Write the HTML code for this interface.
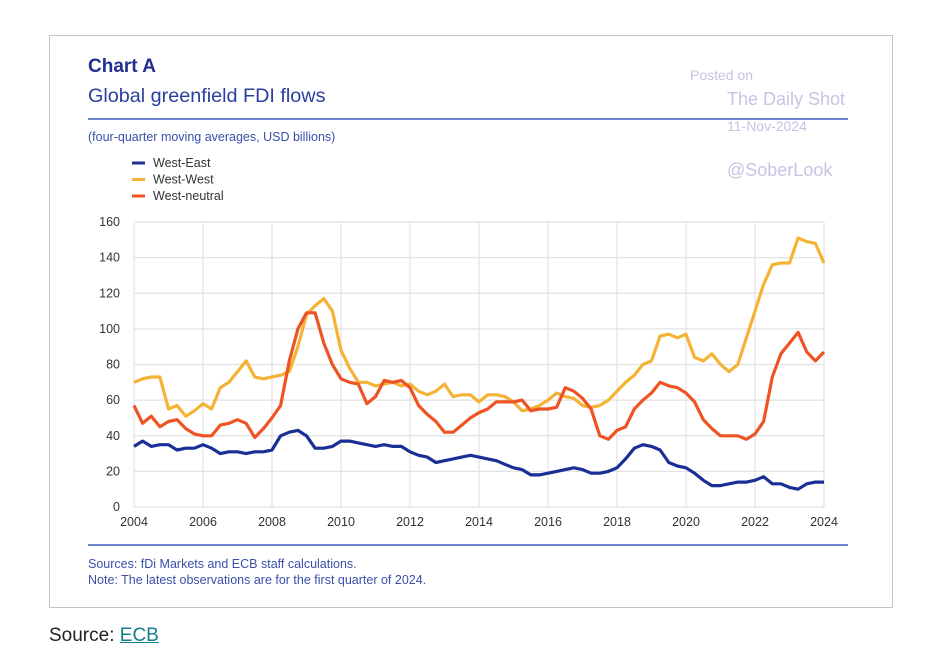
<!DOCTYPE html>
<html><head><meta charset="utf-8"><style>
body{margin:0;width:941px;height:671px;background:#fff;position:relative;font-family:"Liberation Sans",Arial,sans-serif;overflow:hidden}
.a{position:absolute;white-space:nowrap}
</style></head><body>
<div style="position:absolute;left:49px;top:35px;width:844px;height:573px;border:1px solid #c4c4c4;box-sizing:border-box"></div>
<div class="a" style="left:88px;top:56px;font-size:19px;font-weight:bold;color:#1f2f8f">Chart A</div>
<div class="a" style="left:88px;top:85px;font-size:19.8px;color:#2a3f9f">Global greenfield FDI flows</div>
<div style="position:absolute;left:88px;top:118px;width:760px;height:2px;background:#6f86cc"></div>
<div class="a" style="left:88px;top:130px;font-size:12.5px;color:#3a50a8">(four-quarter moving averages, USD billions)</div>
<div class="a" style="left:690px;top:67px;font-size:14px;color:#c4c4e4">Posted on</div>
<div class="a" style="left:727px;top:89px;font-size:18px;color:#c4c4e4">The Daily Shot</div>
<div class="a" style="left:727px;top:118px;font-size:14px;color:#c4c4e4">11-Nov-2024</div>
<div class="a" style="left:727px;top:160px;font-size:18px;color:#c4c4e4">@SoberLook</div>
<svg id="chart" width="941" height="671" style="position:absolute;left:0;top:0"></svg>
<div style="position:absolute;left:88px;top:544px;width:760px;height:2px;background:#6f86cc"></div>
<div class="a" style="left:88px;top:557px;font-size:12.5px;color:#3a50a8">Sources: fDi Markets and ECB staff calculations.</div>
<div class="a" style="left:88px;top:573px;font-size:12.5px;color:#3a50a8">Note: The latest observations are for the first quarter of 2024.</div>
<div class="a" style="left:49px;top:625px;font-size:19px;color:#222">Source: <a style="color:#11808a;text-decoration:underline">ECB</a></div>
<script>
const years=[2004,2006,2008,2010,2012,2014,2016,2018,2020,2022,2024];
const yTicks=[0,20,40,60,80,100,120,140,160];
const seriesNames=["West-East","West-West","West-neutral"];
const westEast=[34,37,34,35,35,32,33,33,35,33,30,31,31,30,31,31,32,40,42,43,40,33,33,34,37,37,36,35,34,35,34,34,31,29,28,25,26,27,28,29,28,27,26,24,22,21,18,18,19,20,21,22,21,19,19,20,22,27,33,35,34,32,25,23,22,19,15,12,12,13,14,14,15,17,13,13,11,10,13,14,14];
const westWest=[70,72,73,73,55,57,51,54,58,55,67,70,76,82,73,72,73,74,76,90,108,113,117,110,88,78,70,70,68,69,70,68,69,65,63,65,69,62,63,63,59,63,63,62,59,54,55,57,60,64,62,61,57,56,57,60,65,70,74,80,82,96,97,95,97,84,82,86,80,76,80,95,110,125,136,137,137,151,149,148,137];
const westNeutral=[57,47,51,45,48,49,44,41,40,40,46,47,49,47,39,44,50,57,82,100,109,109,92,80,72,70,69,58,62,71,70,71,67,57,52,48,42,42,46,50,53,55,59,59,59,60,54,55,55,56,67,65,61,55,40,38,43,45,55,60,64,70,68,67,64,59,49,44,40,40,40,38,41,48,73,86,92,98,87,82,87];
const colors=["#1a2f96","#f5b335","#ee5423"];
const NS="http://www.w3.org/2000/svg",svg=document.getElementById("chart");
const X0=134,X1=824,Y0=507,Y1=222;
const xs=t=>X0+(t-2004)/20*(X1-X0);
const ys=v=>Y0-v/160*(Y0-Y1);
function mk(tag,at){const e=document.createElementNS(NS,tag);for(const k in at)e.setAttribute(k,at[k]);svg.appendChild(e);return e;}
yTicks.forEach(v=>{
 const g=mk("line",{x1:X0,x2:X1,y1:ys(v),y2:ys(v),stroke:"#e2e2e2","stroke-width":1.2});
 
 
 const t=mk("text",{x:120,y:ys(v)+4,"text-anchor":"end","font-size":12.5,fill:"#333","font-family":"Liberation Sans, sans-serif"});t.textContent=v;
 
 
});
years.forEach(yr=>{
 const g=mk("line",{x1:xs(yr),x2:xs(yr),y1:Y1,y2:Y0,stroke:"#e2e2e2","stroke-width":1.2});
 
 
 const t=mk("text",{x:xs(yr),y:526,"text-anchor":"middle","font-size":12.5,fill:"#333","font-family":"Liberation Sans, sans-serif"});t.textContent=yr;
 
 
});
[westWest,westNeutral,westEast].forEach((d,i)=>{
 const ci=[1,2,0][i];
 const p=d.map((v,k)=>xs(2004+k/4).toFixed(1)+","+ys(v).toFixed(1)).join(" ");
 const l=mk("polyline",{points:p,fill:"none",stroke:colors[ci],"stroke-width":3.2,"stroke-linejoin":"round"});
 
 
});
seriesNames.forEach((n,i)=>{
 const y=163+i*16.5;
 const s=mk("line",{x1:132,x2:145,y1:y,y2:y,stroke:colors[i],"stroke-width":3});
 
 
 const t=mk("text",{x:153,y:y+4,"font-size":12.5,fill:"#333","font-family":"Liberation Sans, sans-serif"});t.textContent=n;
 
 
});
</script>
</body></html>
